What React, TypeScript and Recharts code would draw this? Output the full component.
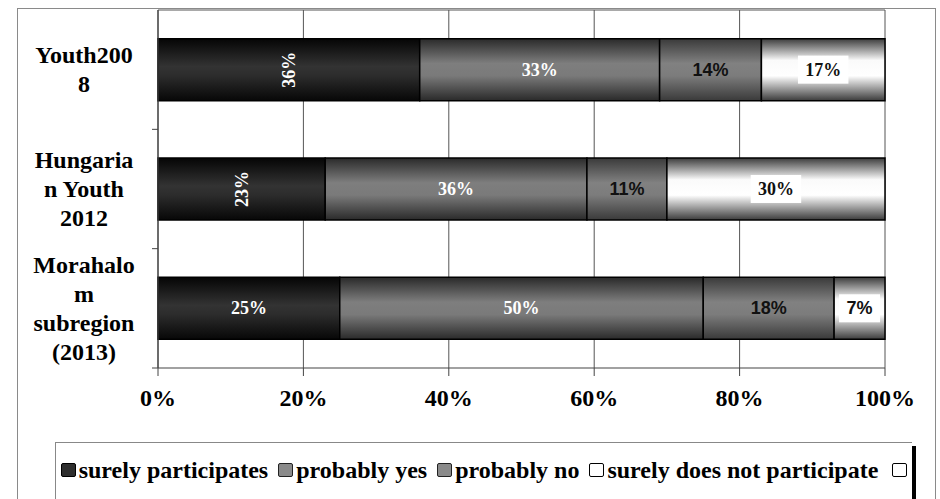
import React from "react";
import { BarChart, Bar, XAxis, YAxis, CartesianGrid, LabelList } from "recharts";

const categories = ["Youth2008", "Hungarian Youth 2012", "Morahalom subregion (2013)"];
const categoryLines = [
  ["Youth200", "8"],
  ["Hungaria", "n Youth", "2012"],
  ["Morahalo", "m", "subregion", "(2013)"],
];
const seriesNames = ["surely participates", "probably yes", "probably no", "surely does not participate"];
const surelyParticipates = [36, 23, 25];
const probablyYes = [33, 36, 50];
const probablyNo = [14, 11, 18];
const surelyNot = [17, 30, 7];
const xTicks = [0, 20, 40, 60, 80, 100];
const legendLabels = [...seriesNames, ""];

const data = categories.map((c, i) => ({
  category: c,
  s1: surelyParticipates[i],
  s2: probablyYes[i],
  s3: probablyNo[i],
  s4: surelyNot[i],
}));

const W = 940;
const H = 499;
const MARGIN = { top: 10, right: 55, bottom: 91, left: 8 };
const X_AXIS_H = 40;
const Y_AXIS_W = 150;
const PLOT_H = H - MARGIN.top - MARGIN.bottom - X_AXIS_H;
const HALF_BAND = PLOT_H / categories.length / 2;
const Y_TICK_SIZE = 6;
const Y_TICK_MARGIN = 2;

const SERIF = "'Liberation Serif', 'Times New Roman', serif";
const SANS = "'Liberation Sans', Arial, sans-serif";

const YTick = (props: any) => {
  const { x, y, index } = props;
  const axisX = x + Y_TICK_SIZE + Y_TICK_MARGIN;
  const lines = categoryLines[index] || [];
  const lh = 29;
  const first = y - ((lines.length - 1) * lh) / 2 + 8;
  return (
    <g>
      <line x1={axisX - Y_TICK_SIZE} x2={axisX} y1={y + HALF_BAND} y2={y + HALF_BAND} stroke="#444" strokeWidth={1} />
      <text x={axisX - 74} y={first} textAnchor="middle" fontFamily={SERIF} fontWeight="bold" fontSize={24} fill="#000">
        {lines.map((l, i) => (
          <tspan key={i} x={axisX - 74} y={first + i * lh}>
            {l}
          </tspan>
        ))}
      </text>
    </g>
  );
};

type LabelOpts = {
  fill: string;
  font: string;
  rotate?: number[];
  box?: boolean;
  sansIdx?: number[];
};

const makeLabel = (opts: LabelOpts) => (props: any) => {
  const { x, y, width, height, value, index } = props;
  const cx = Number(x) + Number(width) / 2;
  const cy = Number(y) + Number(height) / 2;
  const txt = `${value}%`;
  const rotated = opts.rotate && opts.rotate.includes(index);
  const font = opts.sansIdx && opts.sansIdx.includes(index) ? SANS : opts.font;
  const bw = 22 + txt.length * 9.5;
  return (
    <g>
      {opts.box && <rect x={cx - bw / 2} y={cy - 14} width={bw} height={28} fill="#fff" />}
      <text
        x={cx}
        y={cy}
        textAnchor="middle"
        dominantBaseline="central"
        fontFamily={font}
        fontWeight="bold"
        fontSize={18}
        fill={opts.fill}
        transform={rotated ? `rotate(-90, ${cx}, ${cy})` : undefined}
      >
        {txt}
      </text>
    </g>
  );
};

const legendSwatch = [
  { fill: "#2e2e2e", stroke: "#000" },
  { fill: "#8a8a8a", stroke: "#222" },
  { fill: "#8a8a8a", stroke: "#222" },
  { fill: "#fff", stroke: "#000" },
  { fill: "#fff", stroke: "#000" },
];

export default function App() {
  return (
    <div style={{ position: "absolute", left: 0, top: 0, width: W, height: H, overflow: "hidden", background: "#fff" }}>
      <div
        style={{
          position: "absolute",
          left: 17,
          top: 8,
          width: 919,
          height: 600,
          border: "1.5px solid #8a8a8a",
          boxSizing: "border-box",
        }}
      />
      <div style={{ position: "absolute", left: 0, top: 0 }}>
        <BarChart width={W} height={H} data={data} layout="vertical" margin={MARGIN} barCategoryGap="24%">
          <defs>
            <linearGradient id="g1" x1="0" y1="0" x2="0" y2="1">
              <stop offset="0" stopColor="#050505" />
              <stop offset="0.45" stopColor="#333" />
              <stop offset="0.6" stopColor="#2c2c2c" />
              <stop offset="1" stopColor="#070707" />
            </linearGradient>
            <linearGradient id="g2" x1="0" y1="0" x2="0" y2="1">
              <stop offset="0" stopColor="#2a2a2a" />
              <stop offset="0.4" stopColor="#7e7e7e" />
              <stop offset="0.6" stopColor="#7a7a7a" />
              <stop offset="1" stopColor="#2a2a2a" />
            </linearGradient>
            <linearGradient id="g3" x1="0" y1="0" x2="0" y2="1">
              <stop offset="0" stopColor="#3a3a3a" />
              <stop offset="0.4" stopColor="#818181" />
              <stop offset="0.6" stopColor="#7c7c7c" />
              <stop offset="1" stopColor="#3a3a3a" />
            </linearGradient>
            <linearGradient id="g4" x1="0" y1="0" x2="0" y2="1">
              <stop offset="0" stopColor="#3c3c3c" />
              <stop offset="0.35" stopColor="#fafafa" />
              <stop offset="0.6" stopColor="#ffffff" />
              <stop offset="1" stopColor="#3c3c3c" />
            </linearGradient>
          </defs>
          <CartesianGrid
            stroke="#555"
            strokeWidth={1}
            horizontal={true}
            vertical={true}
            horizontalCoordinatesGenerator={({ offset }: any) => [offset.top]}
          />
          <XAxis
            type="number"
            domain={[0, 100]}
            ticks={xTicks}
            tickFormatter={(v: number) => `${v}%`}
            height={X_AXIS_H}
            tickSize={8}
            tickMargin={13}
            axisLine={{ stroke: "#444", strokeWidth: 1.2 }}
            tickLine={{ stroke: "#444" }}
            tick={{ fontFamily: SERIF, fontWeight: "bold", fontSize: 24, fill: "#000" }}
            interval={0}
          />
          <YAxis
            type="category"
            dataKey="category"
            width={Y_AXIS_W}
            tickSize={Y_TICK_SIZE}
            tickMargin={Y_TICK_MARGIN}
            tickLine={false}
            axisLine={{ stroke: "#444", strokeWidth: 1.2 }}
            tick={<YTick />}
            interval={0}
          />
          <Bar dataKey="s1" name={seriesNames[0]} stackId="a" fill="url(#g1)" stroke="#000" strokeWidth={1.5} isAnimationActive={false}>
            <LabelList dataKey="s1" content={makeLabel({ fill: "#fff", font: SERIF, rotate: [0, 1] })} />
          </Bar>
          <Bar dataKey="s2" name={seriesNames[1]} stackId="a" fill="url(#g2)" stroke="#000" strokeWidth={1.5} isAnimationActive={false}>
            <LabelList dataKey="s2" content={makeLabel({ fill: "#fff", font: SERIF })} />
          </Bar>
          <Bar dataKey="s3" name={seriesNames[2]} stackId="a" fill="url(#g3)" stroke="#000" strokeWidth={1.5} isAnimationActive={false}>
            <LabelList dataKey="s3" content={makeLabel({ fill: "#111", font: SANS })} />
          </Bar>
          <Bar dataKey="s4" name={seriesNames[3]} stackId="a" fill="url(#g4)" stroke="#000" strokeWidth={1.5} isAnimationActive={false}>
            <LabelList dataKey="s4" content={makeLabel({ fill: "#111", font: SERIF, box: true, sansIdx: [2] })} />
          </Bar>
        </BarChart>
      </div>
      <div
        style={{
          position: "absolute",
          left: 55,
          top: 442,
          width: 857,
          height: 100,
          borderTop: "1.5px solid #888",
          borderLeft: "1.5px solid #888",
          boxSizing: "border-box",
          boxShadow: "4px 4px 0 #000",
          background: "#fff",
        }}
      >
        <div
          style={{
            display: "flex",
            justifyContent: "center",
            alignItems: "center",
            marginTop: 14,
            fontFamily: SERIF,
            fontWeight: "bold",
            fontSize: 24,
            lineHeight: "26px",
            color: "#000",
            whiteSpace: "nowrap",
          }}
        >
          {legendLabels.map((name, i) => (
            <span key={i} style={{ display: "inline-flex", alignItems: "center", marginRight: i < legendLabels.length - 1 ? 10 : 0 }}>
              <span
                style={{
                  display: "inline-block",
                  width: 13,
                  height: 12,
                  background: legendSwatch[i].fill,
                  border: `1.5px solid ${legendSwatch[i].stroke}`,
                  borderRadius: 2,
                  marginRight: name ? 3 : 0,
                  marginLeft: name ? 0 : 4,
                }}
              />
              {name}
            </span>
          ))}
        </div>
      </div>
    </div>
  );
}
